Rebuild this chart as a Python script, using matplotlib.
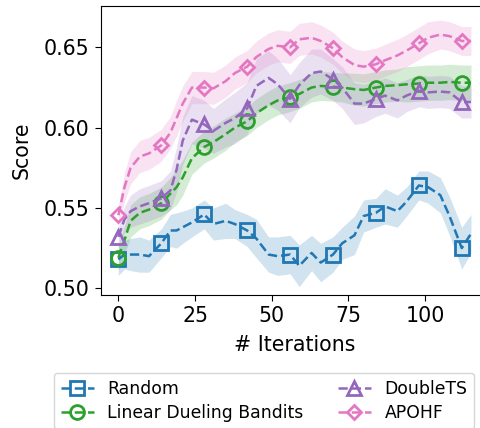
import numpy as np
import matplotlib
matplotlib.use("Agg")
from matplotlib import pyplot as plt

iters = [0, 2, 4, 7, 10, 14, 17, 19, 21, 24, 28, 31, 35, 38, 42, 45, 49, 52,
         56, 59, 63, 66, 70, 73, 77, 80, 84, 87, 91, 94, 98, 101, 105, 108, 112, 115]

random_mean = [0.518, 0.521, 0.521, 0.521, 0.520, 0.528, 0.536, 0.536, 0.538, 0.541,
               0.546, 0.540, 0.542, 0.540, 0.536, 0.531, 0.521, 0.520, 0.521, 0.514,
               0.522, 0.516, 0.521, 0.528, 0.533, 0.545, 0.547, 0.551, 0.548, 0.554,
               0.564, 0.563, 0.558, 0.545, 0.525, 0.534]
random_err = [0.010, 0.009, 0.010, 0.011, 0.010, 0.009, 0.010, 0.011, 0.010, 0.009,
              0.009, 0.010, 0.011, 0.009, 0.010, 0.012, 0.011, 0.012, 0.012, 0.013,
              0.011, 0.012, 0.011, 0.010, 0.012, 0.010, 0.009, 0.011, 0.010, 0.009,
              0.009, 0.010, 0.011, 0.012, 0.013, 0.012]

ldb_mean = [0.519, 0.530, 0.542, 0.547, 0.549, 0.553, 0.559, 0.563, 0.569, 0.581,
            0.588, 0.591, 0.596, 0.600, 0.604, 0.609, 0.614, 0.617, 0.619, 0.621,
            0.625, 0.626, 0.6255, 0.625, 0.624, 0.6235, 0.625, 0.626, 0.6265, 0.627,
            0.6275, 0.628, 0.628, 0.6285, 0.628, 0.628]
ldb_err = [0.008, 0.009, 0.010, 0.010, 0.010, 0.010, 0.010, 0.011, 0.011, 0.010,
           0.010, 0.010, 0.010, 0.009, 0.009, 0.009, 0.009, 0.009, 0.009, 0.009,
           0.009, 0.009, 0.009, 0.009, 0.010, 0.010, 0.010, 0.010, 0.010, 0.011,
           0.011, 0.011, 0.011, 0.011, 0.011, 0.011]

dts_mean = [0.532, 0.543, 0.548, 0.551, 0.553, 0.556, 0.561, 0.574, 0.592, 0.605,
            0.602, 0.598, 0.603, 0.606, 0.612, 0.626, 0.631, 0.627, 0.618, 0.6265,
            0.634, 0.635, 0.630, 0.625, 0.615, 0.615, 0.618, 0.620, 0.617, 0.620,
            0.623, 0.622, 0.6225, 0.622, 0.616, 0.616]
dts_err = [0.006, 0.008, 0.010, 0.011, 0.011, 0.011, 0.012, 0.014, 0.015, 0.015,
           0.015, 0.014, 0.015, 0.016, 0.016, 0.017, 0.017, 0.016, 0.015, 0.014,
           0.015, 0.014, 0.013, 0.013, 0.013, 0.012, 0.011, 0.011, 0.011, 0.010,
           0.010, 0.010, 0.010, 0.010, 0.010, 0.010]

apohf_mean = [0.5455, 0.563, 0.575, 0.582, 0.584, 0.589, 0.597, 0.606, 0.615, 0.625,
              0.625, 0.6245, 0.629, 0.634, 0.638, 0.644, 0.649, 0.651, 0.650, 0.655,
              0.656, 0.654, 0.6495, 0.644, 0.639, 0.638, 0.6395, 0.642, 0.645, 0.648,
              0.6525, 0.656, 0.658, 0.657, 0.654, 0.654]
apohf_err = [0.006, 0.009, 0.010, 0.010, 0.010, 0.010, 0.010, 0.011, 0.011, 0.010,
             0.010, 0.010, 0.010, 0.010, 0.010, 0.010, 0.010, 0.010, 0.010, 0.010,
             0.010, 0.010, 0.010, 0.010, 0.010, 0.010, 0.010, 0.010, 0.010, 0.010,
             0.010, 0.010, 0.009, 0.009, 0.009, 0.009]

series = [
    ("Random", random_mean, random_err, "tab:blue", "s", 10),
    ("Linear Dueling Bandits", ldb_mean, ldb_err, "tab:green", "o", 10),
    ("DoubleTS", dts_mean, dts_err, "tab:purple", "^", 10),
    ("APOHF", apohf_mean, apohf_err, "tab:pink", "D", 7.5),
]

x = np.array(iters)
marks = [i for i, it in enumerate(iters) if it % 14 == 0]

plt.rcParams['font.size'] = 14.8
fig = plt.figure(figsize=(4.81, 4.28), dpi=100)
ax = fig.add_axes([0.2094, 0.3107, 0.8064, 0.675])

for name, m, e, c, mk, ms in series:
    m = np.array(m)
    e = np.array(e)
    ax.fill_between(x, m - e, m + e, color=c, alpha=0.2, linewidth=0)
    ax.plot(x, m, '--', color=c, lw=1.8, marker=mk, markevery=marks, ms=ms,
            mfc='none', mew=2, label=name)

ax.set_xlim(-5.75, 120.75)
ax.set_ylim(0.4958, 0.6757)
ax.set_xticks([0, 25, 50, 75, 100])
ax.set_yticks([0.50, 0.55, 0.60, 0.65])
ax.set_yticklabels(["0.50", "0.55", "0.60", "0.65"])
ax.tick_params(length=4.5)
ax.set_xlabel("# Iterations", labelpad=6.5)
ax.set_ylabel("Score", labelpad=8.5)

fig.legend(loc='upper left', bbox_to_anchor=(54 / 481, 1 - 373 / 428), ncol=2,
           fontsize=12.4, borderaxespad=0, labelspacing=0.35, handlelength=1.9)

fig.savefig("out.png", dpi=100)
